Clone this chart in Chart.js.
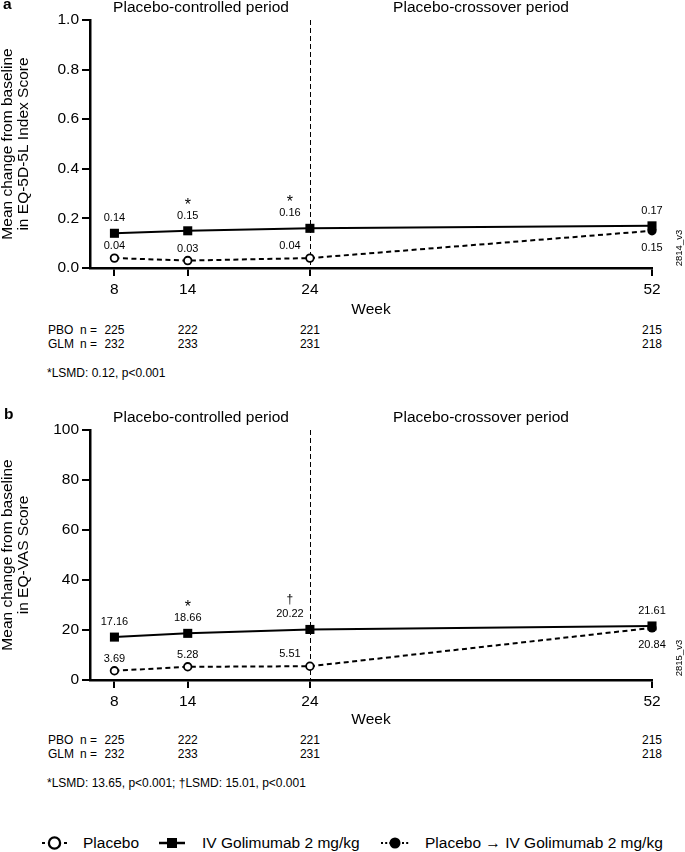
<!DOCTYPE html>
<html>
<head>
<meta charset="utf-8">
<script src="https://cdn.jsdelivr.net/npm/chart.js@4.4.0/dist/chart.umd.min.js"></script>
<style>
  body { margin: 0; background: #fff; }
  #page { position: relative; width: 685px; height: 852px; overflow: hidden; color: #000;
          font-family: 'Liberation Sans', Arial, Helvetica, sans-serif; }
  .panel { position: absolute; left: 0; width: 685px; height: 320px; }
  .t { position: absolute; white-space: nowrap; line-height: 1.15; transform: translateY(-50%); }
  .c { transform: translate(-50%, -50%); }
  .big { font-size: 15.5px; }
  .small { font-size: 12px; }
  .bold { font-weight: bold; }
  .ver { font-size: 9.5px; transform: translate(-50%, -50%) rotate(-90deg); }
</style>
</head>
<body>
<div id="page">
  <div class="panel" style="top:0"><canvas id="chart-a"></canvas></div>
  <div class="panel" style="top:410px"><canvas id="chart-b"></canvas></div>

  <!-- panel a texts -->
  <div class="t big bold" style="left:3px; top:4px;">a</div>
  <div class="t c big" style="left:201px; top:7px;">Placebo-controlled period</div>
  <div class="t c big" style="left:481px; top:7px;">Placebo-crossover period</div>
  <div class="t ver" style="left:679px; top:248px;">2814_v3</div>
  <div class="t small" style="left:47px; top:374px;">*LSMD: 0.12, p&lt;0.001</div>

  <!-- panel b texts -->
  <div class="t big bold" style="left:4px; top:414px;">b</div>
  <div class="t c big" style="left:201px; top:417px;">Placebo-controlled period</div>
  <div class="t c big" style="left:481px; top:417px;">Placebo-crossover period</div>
  <div class="t ver" style="left:679px; top:658px;">2815_v3</div>
  <div class="t small" style="left:47px; top:784px;">*LSMD: 13.65, p&lt;0.001; †LSMD: 15.01, p&lt;0.001</div>

  <!-- legend -->
  <svg style="position:absolute; left:0; top:830px;" width="685" height="26">
    <line x1="42" y1="13" x2="45" y2="13" stroke="#000" stroke-width="2"/>
    <line x1="64" y1="13" x2="67" y2="13" stroke="#000" stroke-width="2"/>
    <circle cx="54.5" cy="13" r="5.6" fill="#fff" stroke="#000" stroke-width="2.3"/>
    <line x1="159" y1="13" x2="185" y2="13" stroke="#000" stroke-width="2.5"/>
    <rect x="167" y="8" width="10" height="10" fill="#000"/>
    <line x1="381" y1="13" x2="409" y2="13" stroke="#000" stroke-width="2" stroke-dasharray="2 2.2"/>
    <circle cx="395" cy="13" r="5.5" fill="#000"/>
  </svg>
  <div class="t big" style="left:83px; top:843px;">Placebo</div>
  <div class="t big" style="left:202px; top:843px;">IV Golimumab 2 mg/kg</div>
  <div class="t big" style="left:425px; top:843px;">Placebo → IV Golimumab 2 mg/kg</div>
</div>

<script>
// --- data ---
const weeks = [8, 14, 24, 52];
const placeboWeeks = [8, 14, 24];
const crossoverWeeks = [24, 52];
const splitWeek = 24;

const placeboIndex = [0.04, 0.03, 0.04];
const golimumabIndex = [0.14, 0.15, 0.16, 0.17];
const crossoverIndex = [0.04, 0.15];
const sigIndex = ['', '*', '*', ''];
const indexTicks = [0, 0.2, 0.4, 0.6, 0.8, 1.0];

const placeboVas = [3.69, 5.28, 5.51];
const golimumabVas = [17.16, 18.66, 20.22, 21.61];
const crossoverVas = [5.51, 20.84];
const sigVas = ['', '*', '†', ''];
const vasTicks = [0, 20, 40, 60, 80, 100];

const pboN = [225, 222, 221, 215];
const glmN = [232, 233, 231, 218];

Chart.defaults.font.family = "'Liberation Sans', Arial, Helvetica, sans-serif";
Chart.defaults.color = '#000';

// draw text centred on its visible glyphs
function drawCentered(ctx, text, x, y) {
  const m = ctx.measureText(text);
  const h = m.actualBoundingBoxAscent - m.actualBoundingBoxDescent;
  ctx.fillText(text, x, y + h / 2);
}

const periodAndLabels = {
  id: 'periodAndLabels',
  beforeDatasetsDraw(chart, args, opts) {
    const { ctx, chartArea, scales: { x } } = chart;
    const px = Math.round(x.getPixelForValue(splitWeek)) + 0.5;
    ctx.save();
    ctx.strokeStyle = '#000';
    ctx.lineWidth = 1;
    ctx.setLineDash([5, 3]);
    ctx.beginPath();
    ctx.moveTo(px, chartArea.top);
    ctx.lineTo(px, chartArea.bottom);
    ctx.stroke();
    ctx.restore();
  },
  afterDatasetsDraw(chart, args, opts) {
    const { ctx } = chart;
    const pbo = chart.getDatasetMeta(0).data;
    const glm = chart.getDatasetMeta(1).data;
    const cross = chart.getDatasetMeta(2).data;
    const glmVals = chart.data.datasets[1].data;
    const pboVals = chart.data.datasets[0].data;
    const crossVals = chart.data.datasets[2].data;
    ctx.save();
    ctx.fillStyle = '#000';
    ctx.textAlign = 'center';
    ctx.textBaseline = 'alphabetic';
    weeks.forEach((w, i) => {
      const shift = w === splitWeek ? -20 : 0;
      const g = glm[i];
      ctx.font = "11px 'Liberation Sans', Arial, sans-serif";
      drawCentered(ctx, glmVals[i].y.toFixed(2), g.x + shift, g.y - 16);
      if (i < pbo.length) {
        const p = pbo[i];
        drawCentered(ctx, pboVals[i].y.toFixed(2), p.x + shift, p.y - 13);
      }
      if (opts.sig[i]) {
        ctx.font = (opts.sig[i] === '*' ? '16px' : '12px') + " 'Liberation Sans', Arial, sans-serif";
        drawCentered(ctx, opts.sig[i], g.x + shift, g.y - 30);
      }
    });
    const last = cross[cross.length - 1];
    ctx.font = "11px 'Liberation Sans', Arial, sans-serif";
    drawCentered(ctx, crossVals[crossVals.length - 1].y.toFixed(2), last.x, last.y + 16);
    ctx.restore();
  }
};

function makePanel(id, p) {
  const line = { borderColor: '#000', borderWidth: 2, tension: 0, clip: false };
  return new Chart(document.getElementById(id), {
    type: 'line',
    data: {
      datasets: [
        Object.assign({}, line, {
          label: 'Placebo',
          data: placeboWeeks.map((w, i) => ({ x: w, y: p.placebo[i] })),
          borderDash: [5, 3.5],
          pointStyle: 'circle', pointRadius: 3.8, pointBorderWidth: 1.8,
          pointBackgroundColor: '#fff', pointBorderColor: '#000'
        }),
        Object.assign({}, line, {
          label: 'IV Golimumab 2 mg/kg',
          data: weeks.map((w, i) => ({ x: w, y: p.golimumab[i] })),
          pointStyle: 'rect', pointRadius: 6.4, pointBorderWidth: 0,
          pointBackgroundColor: '#000'
        }),
        Object.assign({}, line, {
          label: 'Placebo → IV Golimumab 2 mg/kg',
          data: crossoverWeeks.map((w, i) => ({ x: w, y: p.crossover[i] })),
          borderDash: [5, 3.5],
          pointStyle: 'circle', pointRadius: [0, 4.6], pointBorderWidth: 0,
          pointBackgroundColor: '#000'
        })
      ]
    },
    options: {
      responsive: true,
      maintainAspectRatio: false,
      animation: false,
      events: [],
      layout: { padding: { top: 20, right: 33, left: 0, bottom: 0 } },
      plugins: {
        legend: { display: false },
        tooltip: { enabled: false },
        periodAndLabels: { sig: p.sig }
      },
      scales: {
        x: {
          type: 'linear', min: 6, max: 52,
          afterBuildTicks: s => { s.ticks = weeks.map(v => ({ value: v })); },
          afterFit: s => { s.height = p.xHeight; },
          ticks: { color: '#000', font: { size: 15.5 }, padding: 4, autoSkip: false, maxRotation: 0 },
          grid: { drawOnChartArea: false, drawTicks: true, tickLength: 8, color: '#000', lineWidth: 2 },
          border: { display: true, color: '#000', width: 2.5 },
          title: { display: true, text: 'Week', color: '#000', font: { size: 15.5, lineHeight: 1 },
                   padding: { top: 0, bottom: 2.25 } }
        },
        y: {
          min: p.ticks[0], max: p.ticks[p.ticks.length - 1],
          afterBuildTicks: s => { s.ticks = p.ticks.map(v => ({ value: v })); },
          afterFit: s => { s.width = 90; },
          ticks: { color: '#000', font: { size: 15.5 }, padding: 3, callback: v => v.toFixed(p.decimals) },
          grid: { drawOnChartArea: false, drawTicks: true, tickLength: 8, color: '#000', lineWidth: 2 },
          border: { display: true, color: '#000', width: 2.5 },
          title: { display: true, text: p.title, color: '#000', font: { size: 15.5, lineHeight: 1 }, padding: 0 }
        }
      }
    },
    plugins: [periodAndLabels]
  });
}

function addText(text, x, y, cls) {
  const d = document.createElement('div');
  d.className = 't ' + cls;
  d.style.left = x + 'px';
  d.style.top = y + 'px';
  d.textContent = text;
  document.getElementById('page').appendChild(d);
}

// n-at-risk rows aligned to the week ticks
function addCounts(chart, rowYs) {
  const x = chart.scales.x;
  [['PBO', pboN], ['GLM', glmN]].forEach(([name, counts], r) => {
    addText(name, 48, rowYs[r], 'small');
    addText('n =', 80, rowYs[r], 'small');
    counts.forEach((n, i) => addText(String(n), x.getPixelForValue(weeks[i]), rowYs[r], 'small c'));
  });
}

const chartA = makePanel('chart-a', {
  placebo: placeboIndex, golimumab: golimumabIndex, crossover: crossoverIndex,
  sig: sigIndex, ticks: indexTicks, decimals: 1, xHeight: 52,
  title: ['Mean change from baseline', 'in EQ-5D-5L Index Score']
});
const chartB = makePanel('chart-b', {
  placebo: placeboVas, golimumab: golimumabVas, crossover: crossoverVas,
  sig: sigVas, ticks: vasTicks, decimals: 0, xHeight: 50,
  title: ['Mean change from baseline', 'in EQ-VAS Score']
});

addCounts(chartA, [331, 345]);
addCounts(chartB, [741, 755]);
</script>
</body>
</html>
